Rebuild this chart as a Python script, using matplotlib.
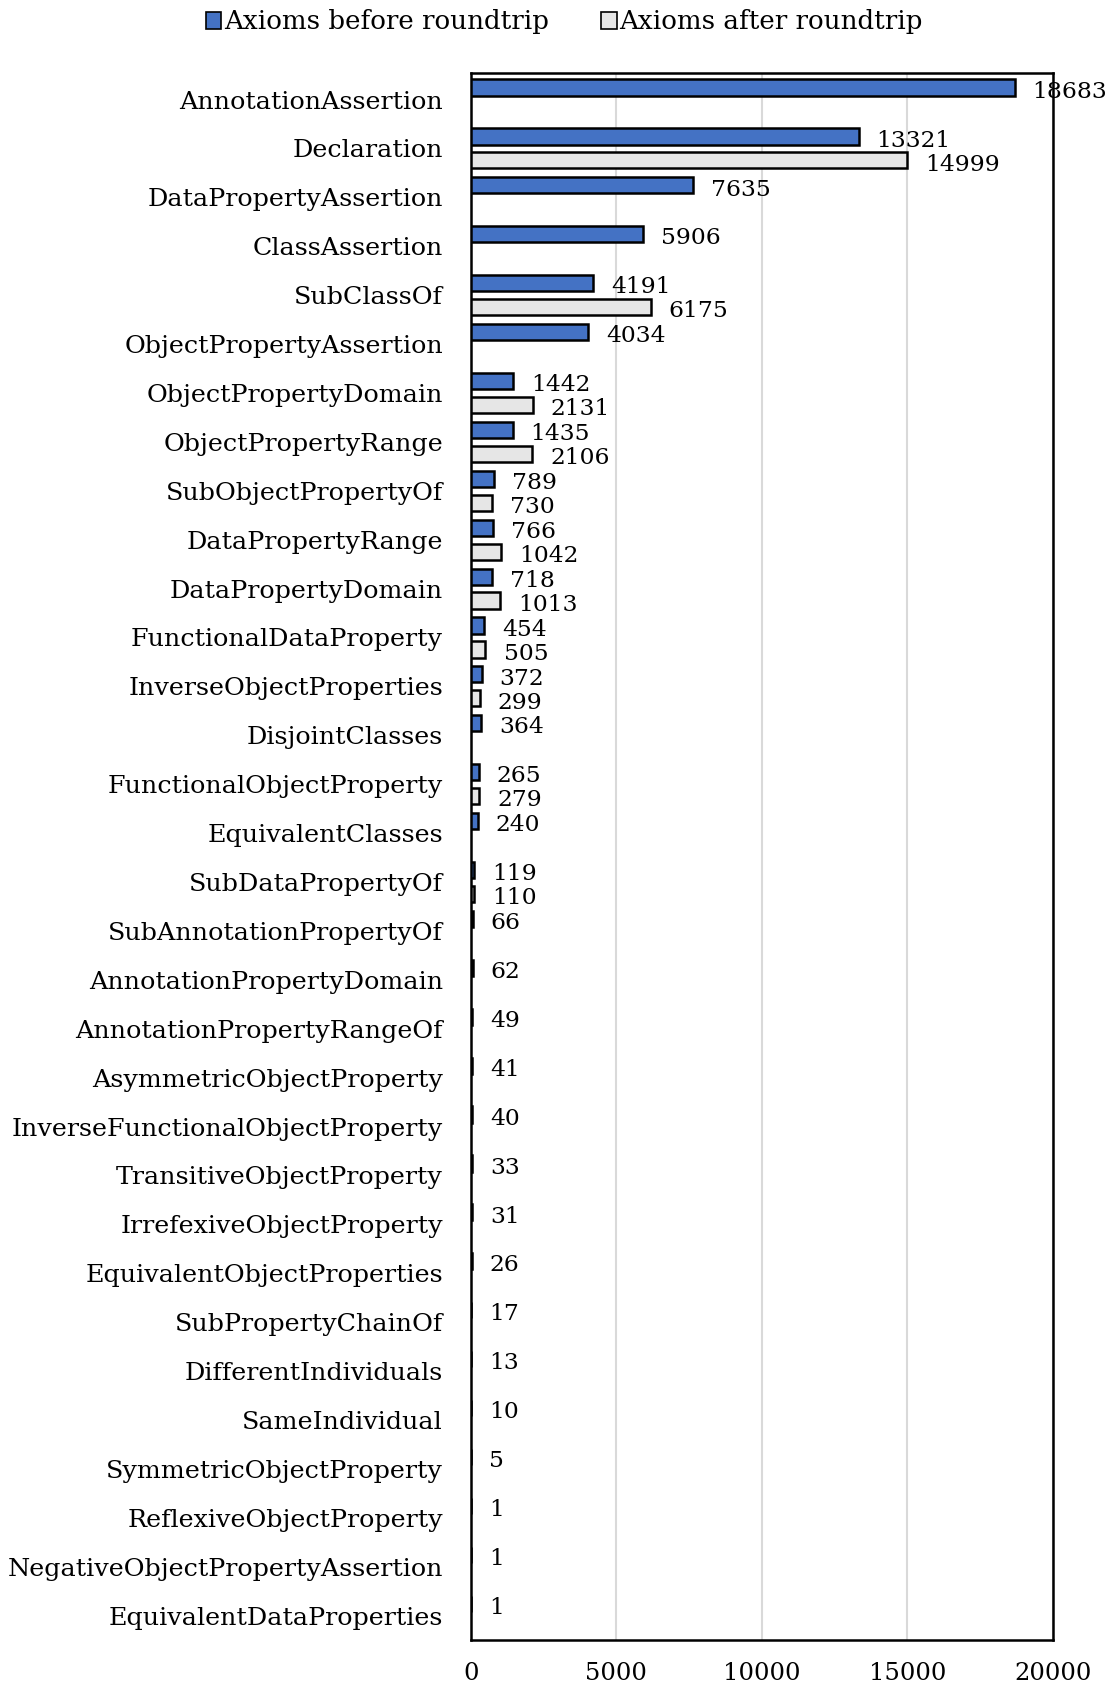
import numpy as np
import matplotlib
matplotlib.use("Agg")
import matplotlib.pyplot as plt
from matplotlib.patches import Patch

categories = ["AnnotationAssertion", "Declaration", "DataPropertyAssertion", "ClassAssertion",
              "SubClassOf", "ObjectPropertyAssertion", "ObjectPropertyDomain", "ObjectPropertyRange",
              "SubObjectPropertyOf", "DataPropertyRange", "DataPropertyDomain", "FunctionalDataProperty",
              "InverseObjectProperties", "DisjointClasses", "FunctionalObjectProperty", "EquivalentClasses",
              "SubDataPropertyOf", "SubAnnotationPropertyOf", "AnnotationPropertyDomain",
              "AnnotationPropertyRangeOf", "AsymmetricObjectProperty", "InverseFunctionalObjectProperty",
              "TransitiveObjectProperty", "IrrefexiveObjectProperty", "EquivalentObjectProperties",
              "SubPropertyChainOf", "DifferentIndividuals", "SameIndividual", "SymmetricObjectProperty",
              "ReflexiveObjectProperty", "NegativeObjectPropertyAssertion", "EquivalentDataProperties"]

before = [18683, 13321, 7635, 5906, 4191, 4034, 1442, 1435, 789, 766, 718, 454, 372, 364,
          265, 240, 119, 66, 62, 49, 41, 40, 33, 31, 26, 17, 13, 10, 5, 1, 1, 1]

# None = no value after roundtrip
after = [None, 14999, None, None, 6175, None, 2131, 2106, 730, 1042, 1013, 505, 299, None,
         279, None, 110, None, None, None, None, None, None, None, None, None, None, None,
         None, None, None, None]

BLUE = "#4472C4"
GREY = "#E6E6E6"
FONT = "DejaVu Serif"

plt.rcParams["font.family"] = FONT

fig = plt.figure(figsize=(11.13, 16.89), dpi=100)
ax = fig.add_axes([0.423, 0.029, 0.523, 0.928])

y = np.arange(len(categories))
h = 0.33
off = 0.245

ax.barh(y - off, before, height=h, color=BLUE, edgecolor="black", linewidth=1.8, zorder=3)
for yi, v in zip(y, before):
    ax.annotate(str(v), (v, yi - off), xytext=(13, -3), textcoords="offset points",
                va="center", ha="left", fontsize=16.8, zorder=4)

ay = [yi + off for yi, v in zip(y, after) if v is not None]
av = [v for v in after if v is not None]
ax.barh(ay, av, height=h, color=GREY, edgecolor="black", linewidth=1.8, zorder=3)
for yi, v in zip(ay, av):
    ax.annotate(str(v), (v, yi), xytext=(13, -3), textcoords="offset points",
                va="center", ha="left", fontsize=16.8, zorder=4)

ax.set_xlim(0, 20000)
ax.set_ylim(len(categories) - 0.5, -0.55)
ax.set_xticks([0, 5000, 10000, 15000, 20000])
ax.set_yticks(y)
ax.set_yticklabels(categories, fontsize=18.3)
ax.tick_params(axis="both", length=0)
ax.tick_params(axis="y", pad=20)
ax.tick_params(axis="x", pad=16, labelsize=17.5)
ax.grid(axis="x", color="#d9d9d9", linewidth=1.5, zorder=0)
for s in ax.spines.values():
    s.set_linewidth(1.8)
    s.set_color("black")

handles = [Patch(facecolor=BLUE, edgecolor="black", linewidth=1.2),
           Patch(facecolor=GREY, edgecolor="black", linewidth=1.2)]
fig.legend(handles, ["Axioms before roundtrip", "Axioms after roundtrip"],
           loc="center", bbox_to_anchor=(0.507, 0.987), ncol=2, frameon=False,
           fontsize=18.8, handlelength=0.6, handleheight=0.6, handletextpad=0.1,
           columnspacing=2.0)

fig.savefig("out.png", dpi=100)
